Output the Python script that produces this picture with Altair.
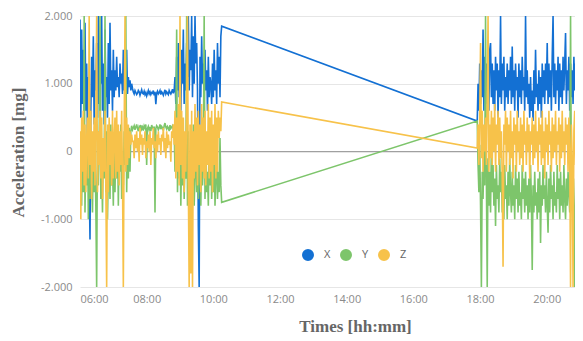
import altair as alt
import pandas as pd

SERIES = ["X", "Y", "Z"]
COLORS = ["#1370d3", "#7dc56b", "#f7c24a"]

# segment 1: 06:00 -> 10:15
X1 = [1950, 500, 1800, 700, 1500, 300, 1900, 600, 1300, 200, 1100, -400, -1300, 600, 1400, 800, 1700, 400, 1200, 900,
      1600, 500, 2000, 700, 1500, 1000, 2000, 600, 1300, 400, 1800, 800, 1100, 500, 1600, 700, 1900, 900, 1200, 600,
      1500, 800,
      1200, 900, 1400, 950, 1100, 800, 1300, 1000, 1150, 850, 1500, 900, 1250, 1000, 1500, 850, 1100, 950, 1050, 900,
      1000, 930,
      880, 850, 900, 870, 840, 860, 900, 880, 830, 870, 910, 860, 850, 890, 840, 870, 820, 860, 900, 850,
      880, 840, 870, 860, 900, 830, 880, 700, 860, 890, 850, 870, 900, 840, 880, 860, 830, 870, 910, 850,
      880, 860, 840, 900, 870, 850, 880, 920, 860, 900,
      1100, 700, 1400, 900, 1600, 800, 1200, 600, 1500, 1000, 1800, 700, 1300, 900, 1600, 1100, 2000, 900, 1500, 1200,
      2000, 800, 1700, 1000, 2000, 1300, 1600, 900, -1100, -2000, 1400, 800, 1700, 1000, 1300, 700, 1500, 900, 1200, 600,
      1400, 800, 1100, 1000, 700, 1300, 800, 1500, 900, 1200, 700, 1600, 1000, 1400, 800, 1700, 1850]
Y1 = [-400, 200, -800, 300, -600, 2000, -900, 100, -500, 400, -1000, -200, -700, 300, -400, -900, 200, -600, 0, -800,
      -2000, 300, -500, 100, 2000, -700, -200, -900, 200, -400, 2000, -600, 300, -1000, -300, 100, -700, 400, -500, -200,
      -800, 200,
      -600, 200, -400, 300, -800, 100, -300, 400, -700, 0, -500, 300, -200, 2000, -600, 200, -400, 350, -300, 300,
      380, 320,
      350, 380, 320, 360, 400, 340, 300, 370, 350, 390, 330, 360, 310, 380, 350, 400, -200, 340, 370, 320,
      360, 300, 390, 350, 330, 370, -900, 340, 380, 360, 320, 350, 400, 330, 370, 350, 310, 380, 420, 360,
      330, 370, 350, 300, 390, 340, 360, 380, 320, 350,
      -300, 200, 1800, -600, 100, -400, 300, -800, 0, -500, 200, -700, -100, -400, 2000, -800, 300, -600, -200, -700,
      100, -500, 400, -800, -300, 200, -600, -100, -700, 300, -400, -800, 100, -500, -200, 2000, -700, 200, -600, -300,
      -800, 100, -500, 300, -700, -200, -600, 200, -800, -400, 100, -700, -300, -600, 200, -500, -750]
Z1 = [300, -1000, 500, -300, 600, -500, 400, -600, 200, 500, -400, 2000, -200, 600, -700, 300, -300, 500, -500, 400,
      2000, -600, 300, -200, 600, -400, 500, -700, 200, -300, 600, -500, -2000, 400, -600, 500, -200, 300, -500, 600,
      -400, 200,
      500, -400, 600, -300, 400, -500, 300, -200, 600, -400, -2000, 300, 2000, -300, 500, -200, 400, -100, 300, 100,
      250, 150,
      150, -100, 250, 50, 300, 0, 200, -150, 350, 100, 250, -50, 200, 100, 300, -100, 150, 50, 250, 0,
      300, -200, 200, 100, 350, 50, 150, -100, 250, 0, 300, 100, 200, -50, 250, 150, 350, 0, 200, -100,
      300, 50, 250, 100, 150, -150, 300, 200, 400, 100,
      600, -400, 500, -300, 700, -500, 2000, -200, 600, -400, 500, -600, 300, -300, 700, 2000, -500, -2000, 400, -1800,
      600, -2000, 300, -400, 700, -300, 500, -500, 600, -200, 400, -600, 700, -300, 500, -400, 600, -500, 300, -200,
      700, -400, 500, -300, 600, -600, 400, -200, 700, -400, 500, -300, 600, 200, 500, 300, 730]

# segment 2: 17:55 -> 21:04
X2 = [450, 1000, 600, 1300, 700, 1200, 800, 1800, 600, 1400, 900, 1300, 700, 1200, 600, 1500, 1600, 800, 1300, 700,
      1200, 600, 1400, 900, 1300, 500, 1200, 800, 2000, 700, 1300, 900, 1400, 600, 1100, 800, 1300, 700, 1200, 900,
      1400, 700, 1550, 800, 1200, 600, 1300, 900, 1100, 500, 1300, 800, 1200, 700, 1400, 900, 1100, 600, 2000, 800,
      1200, 700, 1000, 500, 1100, 600, 900, 450, 1200, 700, 1500, 800, 1000, 600, 1200, 700, 1100, 500, 1300, 800,
      1200, 700, 1300, 900, 1600, 700, 1300, 800, 1200, 600, 1400, 2000, 800, 1300, 700, 1200, 900, 1400, 600, 1300,
      800, 1200, 700, 1400, 900, 1300, 1750, 700, 1200, 900, 1400, 600, 1300, 800, 1200, 700, 1400, 900, 1300, 700,
      1200, 800, 1300, 600, 1100, 900, 1200]
Y2 = [450, -200, -600, 100, -800, -2000, -300, -700, 0, -500, 2000, -400, -2000, -100, -800, -300, -900, 100, -600, -200,
      -800, -400, -1100, -200, -700, -500, -900, -100, -600, -300, -900, -400, -1000, -200, -700, -500, -1000, -300, -800, -100,
      -600, -900, -300, -800, -500, -1000, -200, -700, -400, -900, -300, -800, -600, -1000, -200, -700, -400, -900, -300, -800,
      -500, -1000, -400, -900, -200, -700, -1750, -500, -900, -300, -800, -600, -1000, -400, -900, -300, -1350, -500, -800, -200,
      -700, -500, -900, -300, -800, -1200, -400, -900, -200, -700, -500, -1000, -300, -800, -600, -900, -200, -700, -400, -1000,
      -300, -800, -500, -900, -200, -700, -1000, -400, -800, -300, -600, -900, 2000, -500, -800, -300, -900, -2000, -400, -700,
      -200, -800, -500, -900, -300, -700, -400]
Z2 = [50, 400, -200, 500, 1600, -100, 600, -300, 400, 0, 500, -200, 700, 2000, -300, 400, -100, 600, -200, 500,
      0, 700, -300, 400, 100, 600, -200, 500, -100, 300, -400, -1700, 400, 100, 600, -300, 500, 0, 400, -200,
      600, -100, 300, -400, 500, 100, 400, -300, 600, 0, 300, -200, 500, -100, 400, -300, 600, 100, 300, -200,
      500, 0, 400, -400, 300, 100, 500, -200, 400, -100, 600, 0, 300, -300, 500, 100, 400, -200, 600, -100,
      300, -400, 500, 0, 400, -200, 600, 100, 300, -300, 500, -100, 400, 0, 600, -200, 300, 100, 500, -300,
      400, -100, 600, 0, 300, -200, 500, 100, 400, -300, 500, 0, -2000, 400, -100, -2000, 300, 600, -200, 400,
      0, 500, -300, 300, 100, 600, -100]

SEG1_START = 6.0            # hours
SEG2_START = 17 + 55 / 60   # hours
STEP_H = 1.5 / 60
Y_TICKS = [-2000, -1000, 0, 1000, 2000]
X_TICKS = [6, 8, 10, 12, 14, 16, 18, 20]
ZERO = [0]

rows = []
for name, s1, s2 in zip(SERIES, [X1, Y1, Z1], [X2, Y2, Z2]):
    for i, v in enumerate(s1):
        rows.append({"t": SEG1_START + i * STEP_H, "v": v, "s": name})
    for j, v in enumerate(s2):
        rows.append({"t": SEG2_START + j * STEP_H, "v": v, "s": name})
df = pd.DataFrame(rows)
zero_df = pd.DataFrame({"v": ZERO})

PLOT_W = 495
PLOT_H = 271
X_END = 6 + PLOT_W / (400 / 12)

y_enc = alt.Y(
    "v:Q",
    scale=alt.Scale(domain=[-2000, 2000], nice=False, zero=False),
    axis=alt.Axis(
        values=Y_TICKS,
        labelExpr="datum.value == 0 ? '0' : (datum.value < 0 ? '-' : '') + format(abs(datum.value) / 1000, 'd') + '.000'",
        grid=True, gridColor="#e6e6e6", gridWidth=1,
        domain=False, ticks=False, labelPadding=8,
        labelColor="#8a8a8a", labelFont="Open Sans", labelFontSize=11,
        title="Acceleration [mg]", titleFont="Liberation Serif", titleFontWeight="bold",
        titleFontSize=17, titleColor="#666666", titleAngle=-90,
        titleX=-62, titleY=136, titleAlign="center", titleBaseline="middle",
    ),
)

x_enc = alt.X(
    "t:Q",
    scale=alt.Scale(domain=[6, X_END], nice=False, zero=False),
    axis=alt.Axis(
        values=X_TICKS,
        labelExpr="(datum.value < 10 ? '0' : '') + datum.value + ':00'",
        grid=False, domain=False, ticks=False, labelPadding=6,
        labelColor="#8a8a8a", labelFont="Open Sans", labelFontSize=11,
        title="Times [hh:mm]", titleFont="Liberation Serif", titleFontWeight="bold",
        titleFontSize=17, titleColor="#666666",
        titleX=275, titleY=39, titleAlign="center", titleBaseline="middle",
    ),
)

zero_rule = alt.Chart(zero_df).mark_rule(color="#a0a0a0", strokeWidth=1).encode(y=y_enc)

lines = alt.Chart(df).mark_line(strokeWidth=1.6, clip=True).encode(
    x=x_enc,
    y=y_enc,
    color=alt.Color(
        "s:N",
        scale=alt.Scale(domain=SERIES, range=COLORS),
        legend=alt.Legend(
            title=None, orient="none", direction="horizontal",
            legendX=222, legendY=233,
            symbolType="circle", symbolSize=36, symbolStrokeWidth=6, symbolOpacity=1,
            labelFont="Open Sans", labelFontSize=11, labelColor="#666666",
            labelOffset=10, columnPadding=0,
        ),
    ),
)

chart = (
    alt.layer(zero_rule, lines)
    .properties(
        width=PLOT_W, height=PLOT_H,
        autosize=alt.AutoSizeParams(type="none"),
        padding={"left": 72, "top": 8, "right": 0, "bottom": 62},
        background="white",
    )
    .configure_view(stroke=None)
)

chart.save("out.html", embed_options={"renderer": "svg", "actions": False})
